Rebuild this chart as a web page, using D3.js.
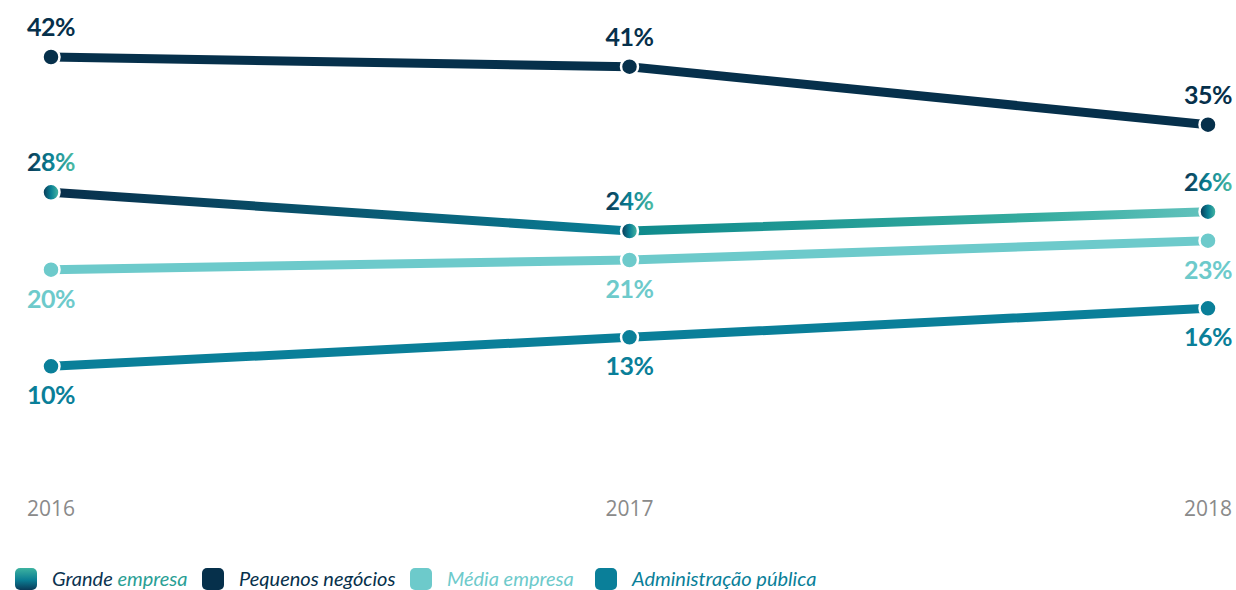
<!DOCTYPE html>
<html>
<head>
<meta charset="utf-8">
<script src="https://cdn.jsdelivr.net/npm/d3@7"></script>
<style>
  body { margin: 0; background: #fff; }
  .val { font-family: Lato, sans-serif; font-weight: 700; font-size: 25px; letter-spacing: -0.5px; }
  .year { font-family: "Open Sans", sans-serif; font-size: 21px; fill: #8a8a8a; }
  .leg { font-family: Lato, sans-serif; font-style: italic; font-size: 20px; }
</style>
</head>
<body>
<div id="chart"></div>
<script>
var years = ["2016", "2017", "2018"];
var grande = [28, 24, 26];
var pequenos = [42, 41, 35];
var media = [20, 21, 23];
var admin = [10, 13, 16];
var names = ["Grande empresa", "Pequenos negócios", "Média empresa", "Administração pública"];

var width = 1236, height = 590;

var svg = d3.select("#chart").append("svg")
    .attr("width", width)
    .attr("height", height);

var x = d3.scalePoint().domain(years).range([51, 1208]);
var y = d3.scaleLinear().domain([0, 42]).range([463, 57]);

var defs = svg.append("defs");

// line gradient for Grande empresa
var lg = defs.append("linearGradient")
    .attr("id", "grandeLine")
    .attr("gradientUnits", "userSpaceOnUse")
    .attr("x1", x("2016")).attr("x2", x("2018"))
    .attr("y1", 0).attr("y2", 0);
lg.append("stop").attr("offset", "0%").attr("stop-color", "#082e4a");
lg.append("stop").attr("offset", "49.9%").attr("stop-color", "#0a7f96");
lg.append("stop").attr("offset", "50%").attr("stop-color", "#0f8a8c");
lg.append("stop").attr("offset", "85%").attr("stop-color", "#35ac9f");
lg.append("stop").attr("offset", "100%").attr("stop-color", "#62c2bd");

// horizontal gradient for text / dots
var tg = defs.append("linearGradient").attr("id", "grandeText");
tg.append("stop").attr("offset", "0%").attr("stop-color", "#0b3350");
tg.append("stop").attr("offset", "50%").attr("stop-color", "#0a8094");
tg.append("stop").attr("offset", "100%").attr("stop-color", "#4cbca4");

// vertical gradient for legend square
var vg = defs.append("linearGradient").attr("id", "grandeLeg")
    .attr("x1", 0).attr("x2", 0).attr("y1", 0).attr("y2", 1);
vg.append("stop").attr("offset", "0%").attr("stop-color", "#3db3a0");
vg.append("stop").attr("offset", "55%").attr("stop-color", "#0b7d93");
vg.append("stop").attr("offset", "100%").attr("stop-color", "#0a3a58");

var series = [
    { name: names[2], values: media, line: "#6dcacb", dot: "#6dcacb", text: "#6dcacb", side: ["below", "below", "below"] },
    { name: names[3], values: admin, line: "#0a7f99", dot: "#0a7f99", text: "#0a7f99", side: ["below", "below", "below"] },
    { name: names[0], values: grande, line: "url(#grandeLine)", dot: "url(#grandeText)", text: "url(#grandeText)", side: ["above", "above", "above"] },
    { name: names[1], values: pequenos, line: "#06304b", dot: "#06304b", text: "#06304b", side: ["above", "above", "above"] }
];

var line = d3.line()
    .x(function (d, i) { return x(years[i]); })
    .y(function (d) { return y(d); });

series.forEach(function (s) {
    var g = svg.append("g");
    g.append("path")
        .attr("d", line(s.values))
        .attr("fill", "none")
        .attr("stroke", s.line)
        .attr("stroke-width", 9);

    g.selectAll("circle")
        .data(s.values)
        .enter().append("circle")
        .attr("cx", function (d, i) { return x(years[i]); })
        .attr("cy", function (d) { return y(d); })
        .attr("r", 8.5)
        .attr("fill", s.dot)
        .attr("stroke", "#fff")
        .attr("stroke-width", 2.5);

    g.selectAll("text")
        .data(s.values)
        .enter().append("text")
        .attr("class", "val")
        .attr("x", function (d, i) { return x(years[i]); })
        .attr("y", function (d, i) {
            return s.side[i] == "above" ? y(d) - 21 : y(d) + 38;
        })
        .attr("text-anchor", "middle")
        .attr("fill", s.text)
        .text(function (d) { return d + "%"; });
});

// year labels
svg.selectAll(".year")
    .data(years)
    .enter().append("text")
    .attr("class", "year")
    .attr("x", function (d) { return x(d); })
    .attr("y", 516)
    .attr("text-anchor", "middle")
    .text(function (d) { return d; });

// legend
var legX = [15, 202, 410, 595];
var legFill = ["url(#grandeLeg)", "#06304b", "#6dcacb", "#0a7f99"];
var legText = ["#0b3350", "#06304b", "#6dcacb", "#0a7f99"];

var legend = svg.selectAll(".legend")
    .data(names)
    .enter().append("g")
    .attr("class", "legend")
    .attr("transform", function (d, i) { return "translate(" + legX[i] + ",568)"; });

legend.append("rect")
    .attr("width", 22)
    .attr("height", 22)
    .attr("rx", 5)
    .attr("fill", function (d, i) { return legFill[i]; });

legend.append("text")
    .attr("class", "leg")
    .attr("x", 37)
    .attr("y", 18)
    .attr("fill", function (d, i) { return legText[i]; })
    .each(function (d, i) {
        var t = d3.select(this);
        if (i == 0) {
            var parts = d.split(" ");
            t.append("tspan").attr("fill", "#0b3350").text(parts[0] + " ");
            t.append("tspan").attr("fill", "#2a9f95").text(parts[1]);
        } else {
            t.text(d);
        }
    });
</script>
</body>
</html>
